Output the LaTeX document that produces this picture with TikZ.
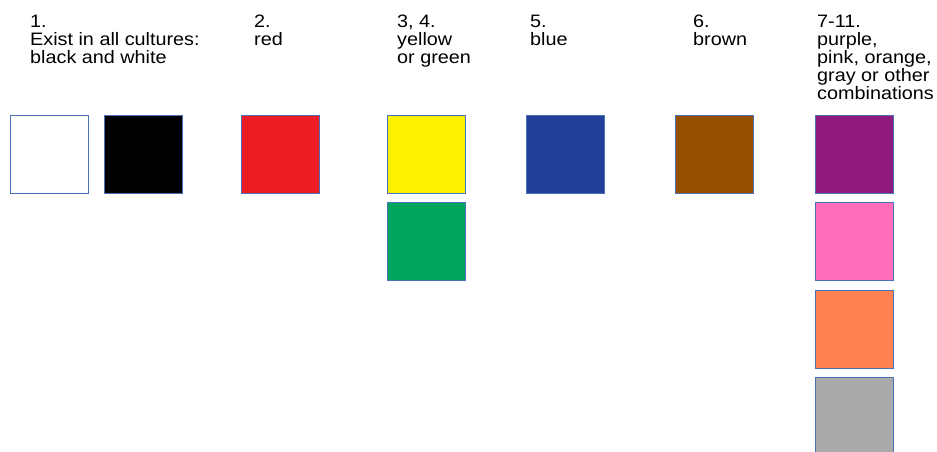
\documentclass[tikz,border=0pt]{standalone}
\usepackage{fontspec}
\setmainfont[FakeStretch=1.1]{Liberation Sans}
\definecolor{edge}{HTML}{4A72B8}
\definecolor{cred}{HTML}{ED1C24}
\definecolor{cyellow}{HTML}{FFF200}
\definecolor{cgreen}{HTML}{00A65D}
\definecolor{cblue}{HTML}{22409A}
\definecolor{cbrown}{HTML}{954F00}
\definecolor{cpurple}{HTML}{8F1A7C}
\definecolor{cpink}{HTML}{FF6DBA}
\definecolor{corange}{HTML}{FF8050}
\definecolor{cgray}{HTML}{AAAAAA}
\tikzset{
  sq/.style={draw=edge, line width=0.9pt, minimum width=78pt, minimum height=78pt, inner sep=0pt, anchor=north west},
  lbl/.style={anchor=north west, inner sep=0pt, align=left, font=\fontsize{18}{18}\selectfont, text=black}
}
\begin{document}
\begin{tikzpicture}[x=1pt,y=-1pt]
\useasboundingbox (0,0) rectangle (937,452);
% labels
\node[lbl] (l1) at (30,15) {1.\\Exist in all cultures:\\black and white};
\node[lbl] (l2) at (254,15) {2.\\red};
\node[lbl] (l3) at (397,15) {3, 4.\\yellow\\or green};
\node[lbl] (l5) at (530,15) {5.\\blue};
\node[lbl] (l6) at (693,15) {6.\\brown};
\node[lbl] (l7) at (817,15) {7-11.\\purple,\\pink, orange,\\gray or other\\combinations};
% squares
\node[sq, fill=white] (white) at (10,115) {};
\node[sq, fill=black] (black) at (104,115) {};
\node[sq, fill=cred] (red) at (241,115) {};
\node[sq, fill=cyellow] (yellow) at (387,115) {};
\node[sq, fill=cgreen] (green) at (387,202) {};
\node[sq, fill=cblue] (blue) at (526,115) {};
\node[sq, fill=cbrown] (brown) at (675,115) {};
\node[sq, fill=cpurple] (purple) at (815,115) {};
\node[sq, fill=cpink] (pink) at (815,202) {};
\node[sq, fill=corange] (orange) at (815,290) {};
\node[sq, fill=cgray] (gray) at (815,377) {};
\end{tikzpicture}
\end{document}
